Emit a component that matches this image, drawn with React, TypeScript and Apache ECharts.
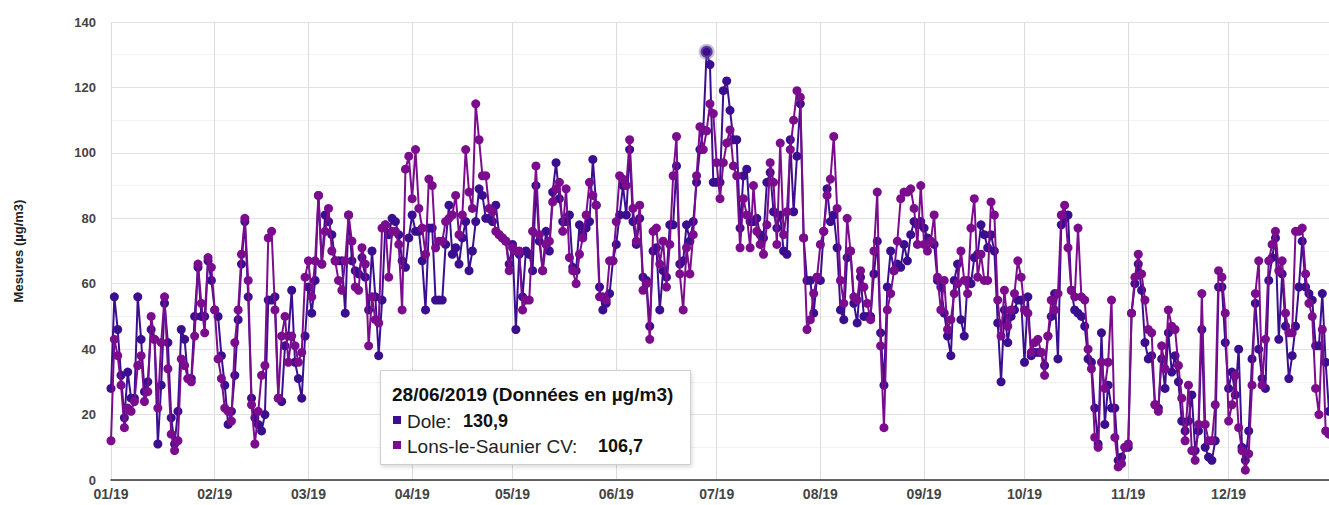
import React, { useEffect, useRef } from "react";
import * as echarts from "echarts";

// ---- Data (µg/m3), daily values 2019 ----
const doleJan = [28,56,46,32,19,33,25,25,56,43,27,30,46,43,11,29,54,42,19,11,21,46,43,31,31,50,65,50,50,67,61];
const doleFeb = [52,50,38,29,17,21,32,49,66,79,56,25,19,17,15,20,55,55,56,25,24,41,44,58,36,31,25,44];
const doleMar = [59,51,61,87,66,81,79,75,67,67,67,51,81,67,64,63,68,62,52,70,56,38,55,78,75,80,79,75,67,65,74];
const doleApr = [81,76,76,67,52,77,77,55,55,55,72,84,69,71,66,74,79,64,70,79,89,87,80,80,79,84,75,74,73,66];
const doleMay = [72,46,69,56,70,69,64,90,73,64,76,70,88,97,86,79,79,81,65,64,78,75,77,79,98,84,59,52,54,57,67];
const doleJun = [72,81,90,81,101,79,72,80,62,61,47,70,71,52,64,62,78,78,96,66,67,78,73,79,91,101,107,130.9,127,91];
const doleJul = [91,91,119,122,113,104,104,77,93,95,79,79,80,75,74,91,94,82,77,81,70,69,104,82,99,115,74,61,61,51,62];
const doleAug = [61,76,89,79,81,71,52,49,68,70,54,48,62,50,50,50,63,73,45,29,59,70,64,66,65,72,67,75,79,78,79];
const doleSep = [77,74,73,72,61,59,51,44,38,61,66,49,44,61,60,68,69,78,75,71,75,70,48,30,52,42,50,52,55,55];
const doleOct = [36,56,38,39,39,39,35,44,50,57,37,78,80,81,58,52,51,50,47,37,36,22,11,45,17,29,22,22,6,7,10];
const doleNov = [10,51,60,66,58,42,37,38,23,22,37,28,45,33,38,30,18,15,18,26,9,15,46,10,7,6,12,59,59,42];
const doleDec = [28,33,26,40,10,6,15,37,54,40,31,28,61,68,74,43,63,47,31,38,47,59,73,59,57,55,41,41,57,36,21];

const lonsJan = [12,43,38,29,16,22,21,24,35,38,24,27,50,43,22,42,56,34,14,9,12,37,35,31,30,44,66,54,45,68,65];
const lonsFeb = [52,37,31,22,21,18,42,52,69,80,61,23,11,21,32,35,74,76,52,25,44,50,36,44,41,36,39,62];
const lonsMar = [67,56,67,87,66,76,83,70,67,61,58,67,81,73,59,58,71,66,41,56,49,48,77,78,62,76,76,72,52,95,99];
const lonsApr = [86,101,83,77,69,92,90,71,73,73,79,80,81,87,75,81,101,88,83,115,104,93,93,83,82,76,75,74,73,64];
const lonsMay = [71,70,70,52,55,55,76,96,75,64,72,73,85,89,91,76,89,68,64,60,69,74,81,91,87,84,56,56,55,67,67];
const lonsJun = [79,93,92,90,104,83,73,84,58,60,43,76,77,66,73,59,72,93,105,63,52,71,63,75,93,108,101,106.7,115,112];
const lonsJul = [97,86,97,103,107,96,93,71,86,81,71,90,76,72,69,78,97,91,72,103,75,82,101,110,119,117,74,46,49,57,62];
const lonsAug = [72,76,87,92,105,83,61,54,80,70,56,55,64,59,54,49,70,88,41,16,52,57,64,73,86,88,88,89,83,72,90];
const lonsSep = [72,70,73,81,62,52,61,46,49,57,60,70,61,57,77,86,62,69,61,61,85,81,55,44,58,47,52,57,67,62];
const lonsOct = [52,51,39,42,43,39,32,44,55,52,57,81,84,71,58,56,77,56,55,40,34,13,10,36,28,36,55,13,4,5,10];
const lonsNov = [11,51,62,69,63,55,46,45,23,21,41,34,52,47,46,35,25,12,29,9,6,17,57,17,12,12,23,64,62,51];
const lonsDec = [18,23,32,16,9,3,8,29,57,67,29,43,67,72,76,64,67,51,45,45,76,76,77,63,54,50,28,20,46,15,14];

const doleValues = [...doleJan, ...doleFeb, ...doleMar, ...doleApr, ...doleMay, ...doleJun, ...doleJul, ...doleAug, ...doleSep, ...doleOct, ...doleNov, ...doleDec];
const lonsValues = [...lonsJan, ...lonsFeb, ...lonsMar, ...lonsApr, ...lonsMay, ...lonsJun, ...lonsJul, ...lonsAug, ...lonsSep, ...lonsOct, ...lonsNov, ...lonsDec];

const seriesNames = ["Dole", "Lons-le-Saunier CV"];
const yTicks = [0, 20, 40, 60, 80, 100, 120, 140];
const monthLengths = [31, 28, 31, 30, 31, 30, 31, 31, 30, 31, 30, 31];
const highlightDate = "28/06/2019";

// category labels dd/mm/2019
const dates: string[] = [];
monthLengths.forEach((len, m) => {
  for (let d = 1; d <= len; d++) {
    dates.push(`${String(d).padStart(2, "0")}/${String(m + 1).padStart(2, "0")}/2019`);
  }
});

const DOLE = "#3b0e8f";
const LONS = "#7b0c8d";
const FONT = '"Liberation Sans", Arial, sans-serif';

export default function App() {
  const ref = useRef<HTMLDivElement>(null);
  useEffect(() => {
    if (!ref.current) return;
    const chart = echarts.init(ref.current, null, { renderer: "svg" });
    const hi = dates.indexOf(highlightDate);
    const fmt = (v: number) => v.toFixed(1).replace(".", ",");
    const isMonthStart = (_i: number, v: string) => v.startsWith("01/");
    const doleData = doleValues.map((v, i) =>
      i === hi
        ? {
            value: v,
            symbolSize: 12,
            itemStyle: { color: DOLE, borderColor: "rgba(130,115,170,0.45)", borderWidth: 4 },
          }
        : v
    );
    const Z = 100;
    const midText = (x: number, y: number, text: string, font: string, fill: string) => ({
      type: "text",
      x,
      y,
      z: Z + 1,
      style: { text, font, fill, verticalAlign: "middle", textVerticalAlign: "middle" },
    });
    chart.setOption({
      animation: false,
      grid: { left: 111, right: -1, top: 22, bottom: 25 },
      xAxis: {
        type: "category",
        data: dates,
        boundaryGap: false,
        axisLine: { show: true, lineStyle: { color: "#333", width: 1.5 } },
        axisTick: { show: false },
        axisLabel: {
          interval: isMonthStart,
          formatter: (v: string) => `${v.slice(3, 5)}/19`,
          color: "#444",
          fontWeight: "bold",
          fontSize: 14,
          fontFamily: FONT,
          margin: 7,
        },
        splitLine: { show: true, interval: isMonthStart, lineStyle: { color: "#dcdcdc", width: 1 } },
      },
      yAxis: {
        type: "value",
        min: yTicks[0],
        max: yTicks[yTicks.length - 1],
        interval: 20,
        name: "Mesures (µg/m3)",
        nameLocation: "middle",
        nameGap: 86,
        nameTextStyle: { color: "#222", fontWeight: "bold", fontSize: 13, fontFamily: FONT },
        axisLine: { show: false },
        axisTick: { show: false },
        axisLabel: { color: "#444", fontWeight: "bold", fontSize: 13, fontFamily: FONT, margin: 15 },
        splitLine: { show: true, lineStyle: { color: "#e2e2e2", width: 1 } },
        minorTick: { show: false, splitNumber: 2 },
        minorSplitLine: { show: true, lineStyle: { color: "#f2f2f2", width: 1 } },
      },
      series: [
        {
          name: seriesNames[0],
          type: "line",
          data: doleData,
          symbol: "circle",
          symbolSize: 9,
          showSymbol: true,
          showAllSymbol: true,
          itemStyle: { color: DOLE },
          lineStyle: { color: DOLE, width: 2 },
          z: 2,
        },
        {
          name: seriesNames[1],
          type: "line",
          data: lonsValues,
          symbol: "circle",
          symbolSize: 9,
          showSymbol: true,
          showAllSymbol: true,
          itemStyle: { color: LONS },
          lineStyle: { color: LONS, width: 2 },
          z: 3,
        },
      ],
      graphic: [
        {
          type: "rect",
          z: Z,
          shape: { x: 380.5, y: 370.5, width: 310, height: 94 },
          style: {
            fill: "#fff",
            stroke: "#cfcfcf",
            lineWidth: 1,
            shadowBlur: 4,
            shadowOffsetX: 1,
            shadowOffsetY: 2,
            shadowColor: "rgba(0,0,0,0.15)",
          },
        },
        midText(392, 394, `${highlightDate} (Données en µg/m3)`, `bold 19px ${FONT}`, "#111"),
        { type: "rect", z: Z + 1, shape: { x: 393, y: 416, width: 8, height: 8 }, style: { fill: DOLE } },
        midText(407, 421, `${seriesNames[0]}:`, `19px ${FONT}`, "#222"),
        midText(463, 421, fmt(doleValues[hi]), `bold 18px ${FONT}`, "#111"),
        { type: "rect", z: Z + 1, shape: { x: 393, y: 441, width: 8, height: 8 }, style: { fill: LONS } },
        midText(407, 446, `${seriesNames[1]}:`, `19px ${FONT}`, "#222"),
        midText(598, 446, fmt(lonsValues[hi]), `bold 18px ${FONT}`, "#111"),
      ],
    });
    return () => chart.dispose();
  }, []);
  return <div ref={ref} style={{ position: "absolute", left: 0, top: 0, width: 1329, height: 505 }} />;
}
